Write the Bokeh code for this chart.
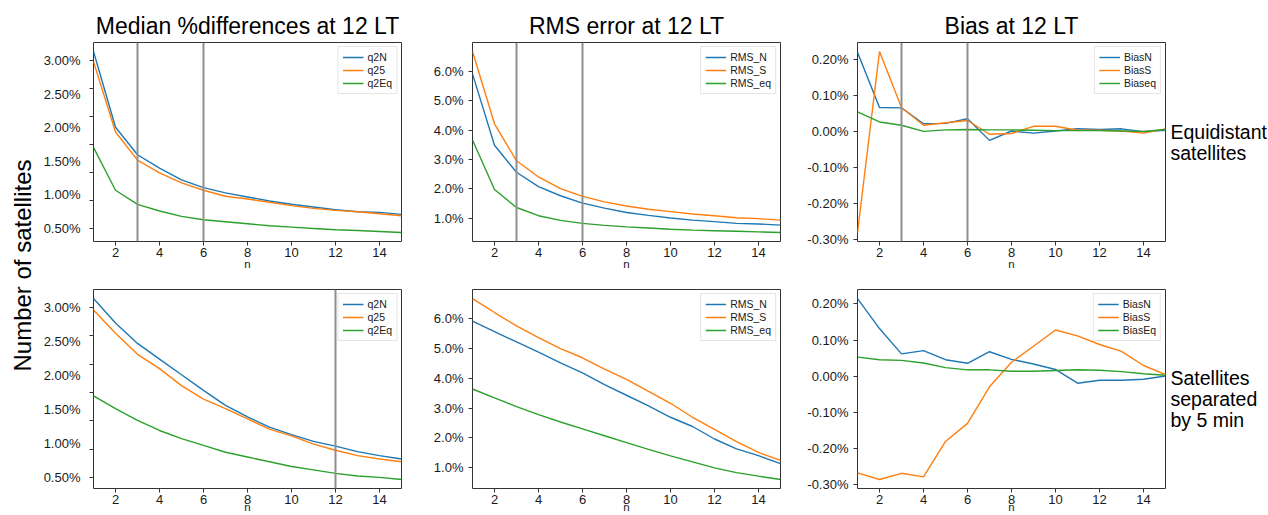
import numpy as np
from math import pi
from bokeh.plotting import figure
from bokeh.layouts import row, column
from bokeh.models import FixedTicker, Span, Label, Range1d, CustomJSTickFormatter
from bokeh.embed import file_html
from bokeh.resources import INLINE

FONT = "Liberation Sans"
n = list(range(1, 16))

# ---- Equidistant satellites (top row) ----
q2N_eq = [3.14, 2.01, 1.60, 1.40, 1.225, 1.11, 1.03, 0.97, 0.91, 0.86, 0.82, 0.78, 0.75, 0.74, 0.71]
q25_eq = [2.99, 1.94, 1.52, 1.33, 1.18, 1.07, 0.98, 0.94, 0.89, 0.84, 0.80, 0.77, 0.75, 0.72, 0.69]
q2Eq_eq = [1.71, 1.07, 0.86, 0.76, 0.68, 0.63, 0.60, 0.57, 0.54, 0.52, 0.50, 0.48, 0.47, 0.455, 0.44]

RMS_N_eq = [5.92, 3.49, 2.57, 2.08, 1.77, 1.52, 1.35, 1.20, 1.10, 1.01, 0.94, 0.89, 0.83, 0.81, 0.77]
RMS_S_eq = [6.68, 4.22, 2.96, 2.41, 2.01, 1.75, 1.56, 1.42, 1.31, 1.23, 1.15, 1.09, 1.02, 0.99, 0.94]
RMS_eq_eq = [3.67, 1.98, 1.37, 1.09, 0.93, 0.83, 0.76, 0.71, 0.67, 0.63, 0.60, 0.58, 0.56, 0.54, 0.52]

BiasN_eq = [0.219, 0.066, 0.065, 0.021, 0.022, 0.035, -0.025, 0.001, -0.005, 0.001, 0.007, 0.005, 0.007, -0.001, 0.003]
BiasS_eq = [-0.280, 0.221, 0.066, 0.017, 0.024, 0.030, -0.008, -0.006, 0.014, 0.014, 0.003, 0.003, 0.001, -0.005, 0.007]
Biaseq_eq = [0.054, 0.026, 0.017, 0.0, 0.004, 0.005, 0.004, 0.004, 0.003, 0.002, 0.002, 0.002, 0.001, 0.0, 0.005]

# ---- Satellites separated by 5 min (bottom row) ----
q2N_5m = [3.13, 2.77, 2.47, 2.24, 2.01, 1.78, 1.56, 1.39, 1.24, 1.13, 1.03, 0.96, 0.88, 0.82, 0.77]
q25_5m = [2.96, 2.62, 2.31, 2.10, 1.85, 1.65, 1.51, 1.36, 1.21, 1.11, 0.99, 0.90, 0.82, 0.77, 0.73]
q2Eq_5m = [1.70, 1.51, 1.34, 1.19, 1.07, 0.97, 0.87, 0.80, 0.73, 0.66, 0.61, 0.56, 0.52, 0.50, 0.47]

RMS_N_5m = [5.92, 5.57, 5.22, 4.88, 4.52, 4.18, 3.79, 3.43, 3.07, 2.69, 2.38, 1.96, 1.63, 1.40, 1.13]
RMS_S_5m = [6.68, 6.21, 5.76, 5.37, 5.00, 4.69, 4.31, 3.96, 3.56, 3.16, 2.69, 2.28, 1.87, 1.51, 1.24]
RMS_eq_5m = [3.64, 3.34, 3.05, 2.78, 2.53, 2.30, 2.07, 1.84, 1.61, 1.39, 1.19, 0.99, 0.83, 0.71, 0.60]

BiasN_5m = [0.215, 0.132, 0.062, 0.071, 0.046, 0.036, 0.068, 0.047, 0.034, 0.019, -0.019, -0.011, -0.011, -0.008, 0.001]
BiasS_5m = [-0.267, -0.285, -0.268, -0.278, -0.180, -0.130, -0.029, 0.039, 0.083, 0.128, 0.112, 0.088, 0.069, 0.030, 0.005]
BiasEq_5m = [0.053, 0.046, 0.044, 0.037, 0.024, 0.018, 0.018, 0.014, 0.014, 0.016, 0.018, 0.017, 0.013, 0.007, 0.003]

# ---- ticks / labels ----
x_ticks = [2, 4, 6, 8, 10, 12, 14]
median_ticks = [0.5, 1.0, 1.5, 2.0, 2.5, 3.0]
rms_ticks = [1.0, 2.0, 3.0, 4.0, 5.0, 6.0]
bias_ticks = [-0.3, -0.2, -0.1, 0.0, 0.1, 0.2]

titles = ["Median %differences at 12 LT", "RMS error at 12 LT", "Bias at 12 LT"]
median_names = ["q2N", "q25", "q2Eq"]
rms_names = ["RMS_N", "RMS_S", "RMS_eq"]
bias_names_top = ["BiasN", "BiasS", "Biaseq"]
bias_names_bot = ["BiasN", "BiasS", "BiasEq"]
row_labels_top = ["Equidistant", "satellites"]
row_labels_bot = ["Satellites", "separated", "by 5 min"]
ylabel_text = "Number of satellites"
xlabel_text = "n"

vlines_top = [3, 6]
vlines_bot_left = [12]

COLORS = ["#1f77b4", "#ff7f0e", "#2ca02c"]
TXT = "#1a1a1a"


def make_panel(series, names, yticks, decimals, col, top, title=None, vlines=(), minor=None):
    widths = [(380, 53, 19), (380, 52, 20), (366, 57, 1)]
    w, bl, br = widths[col]
    if top:
        h, bt, bb = 275, 42, 34
    else:
        h, bt, bb = 240, 14, 26
    allv = np.concatenate([np.asarray(s, dtype=float) for s in series])
    lo, hi = float(allv.min()), float(allv.max())
    pad = 0.05 * (hi - lo)
    p = figure(width=w, height=h, min_border_left=bl, min_border_right=br,
               min_border_top=bt, min_border_bottom=bb,
               x_range=Range1d(1, 15), y_range=Range1d(lo - pad, hi + pad),
               output_backend="svg", toolbar_location=None, title=title)
    p.background_fill_color = "white"
    p.border_fill_color = "white"
    p.grid.visible = False
    p.outline_line_color = "#333333"
    p.outline_line_width = 1
    if title is not None:
        p.title.text_font = FONT
        p.title.text_font_size = "23px"
        p.title.text_font_style = "normal"
        p.title.text_color = "black"
        p.title.align = "center"
        p.title.standoff = 8
    for ax in (p.xaxis[0], p.yaxis[0]):
        ax.axis_line_color = None
        ax.major_tick_line_color = "#333333"
        ax.minor_tick_line_color = "#333333"
        ax.major_tick_in = 0
        ax.minor_tick_in = 0
        ax.major_tick_out = 4
        ax.minor_tick_out = 0
        ax.major_label_text_font = FONT
        ax.major_label_text_font_size = "13px"
        ax.major_label_text_color = TXT
    p.xaxis.ticker = FixedTicker(ticks=x_ticks)
    p.xaxis.major_label_standoff = 2
    p.xaxis.axis_label = xlabel_text
    p.xaxis.axis_label_text_font = FONT
    p.xaxis.axis_label_text_font_size = "11.5px"
    p.xaxis.axis_label_text_font_style = "normal"
    p.xaxis.axis_label_text_color = TXT
    p.xaxis.axis_label_standoff = -2 if top else -6
    if minor is not None:
        p.yaxis.ticker = FixedTicker(ticks=yticks, minor_ticks=minor)
        p.yaxis.major_tick_out = 0
        p.yaxis.minor_tick_out = 4
        p.yaxis.major_label_standoff = 9
    else:
        p.yaxis.ticker = FixedTicker(ticks=yticks)
        p.yaxis.major_label_standoff = 5
    p.yaxis.formatter = CustomJSTickFormatter(code="return tick.toFixed(%d) + '%%';" % decimals)

    for v in vlines:
        p.add_layout(Span(location=v, dimension="height", line_color="#8f8f8f", line_width=2))

    for s, name, c in zip(series, names, COLORS):
        p.line(n, s, line_color=c, line_width=1.4, legend_label=name)

    lg = p.legend[0]
    lg.location = "top_right"
    lg.margin = 4
    lg.padding = 4
    lg.spacing = 1
    lg.label_text_font = FONT
    lg.label_text_font_size = "10.5px"
    lg.label_text_color = TXT
    lg.label_height = 12
    lg.glyph_height = 12
    lg.glyph_width = 21
    lg.label_standoff = 4
    lg.border_line_color = "#cccccc"
    lg.border_line_width = 1
    lg.background_fill_alpha = 0.85
    return p


med_minor = [0.5 + k * 2.5 / 6 for k in range(7)]

p1 = make_panel([q2N_eq, q25_eq, q2Eq_eq], median_names, median_ticks, 2, 0, True,
                title=titles[0], vlines=vlines_top, minor=med_minor)
p2 = make_panel([RMS_N_eq, RMS_S_eq, RMS_eq_eq], rms_names, rms_ticks, 1, 1, True,
                title=titles[1], vlines=vlines_top)
p3 = make_panel([BiasN_eq, BiasS_eq, Biaseq_eq], bias_names_top, bias_ticks, 2, 2, True,
                title=titles[2], vlines=vlines_top)
p4 = make_panel([q2N_5m, q25_5m, q2Eq_5m], median_names, median_ticks, 2, 0, False,
                vlines=vlines_bot_left, minor=med_minor)
p5 = make_panel([RMS_N_5m, RMS_S_5m, RMS_eq_5m], rms_names, rms_ticks, 1, 1, False)
p6 = make_panel([BiasN_5m, BiasS_5m, BiasEq_5m], bias_names_bot, bias_ticks, 2, 2, False)


def text_strip(width):
    f = figure(width=width, height=515, x_range=Range1d(0, width), y_range=Range1d(0, 515),
               output_backend="svg", toolbar_location=None, min_border=0)
    f.axis.visible = False
    f.grid.visible = False
    f.outline_line_color = None
    f.background_fill_color = "white"
    f.border_fill_color = "white"
    return f


left = text_strip(40)
left.add_layout(Label(x=22, y=250, text=ylabel_text, angle=pi / 2, text_align="center",
                      text_baseline="middle", text_font=FONT, text_font_size="24px",
                      text_color="black"))

right = text_strip(102)
for lines, first_base in ((row_labels_top, 131), (row_labels_bot, 377)):
    for i, t in enumerate(lines):
        right.add_layout(Label(x=4, y=515 - (first_base + 21 * i), text=t, text_align="left",
                               text_baseline="alphabetic", text_font=FONT,
                               text_font_size="19.5px", text_color="black"))

layout = row(left, column(row(p1, p2, p3), row(p4, p5, p6)), right)
open("out.html", "w").write(file_html(layout, INLINE))
